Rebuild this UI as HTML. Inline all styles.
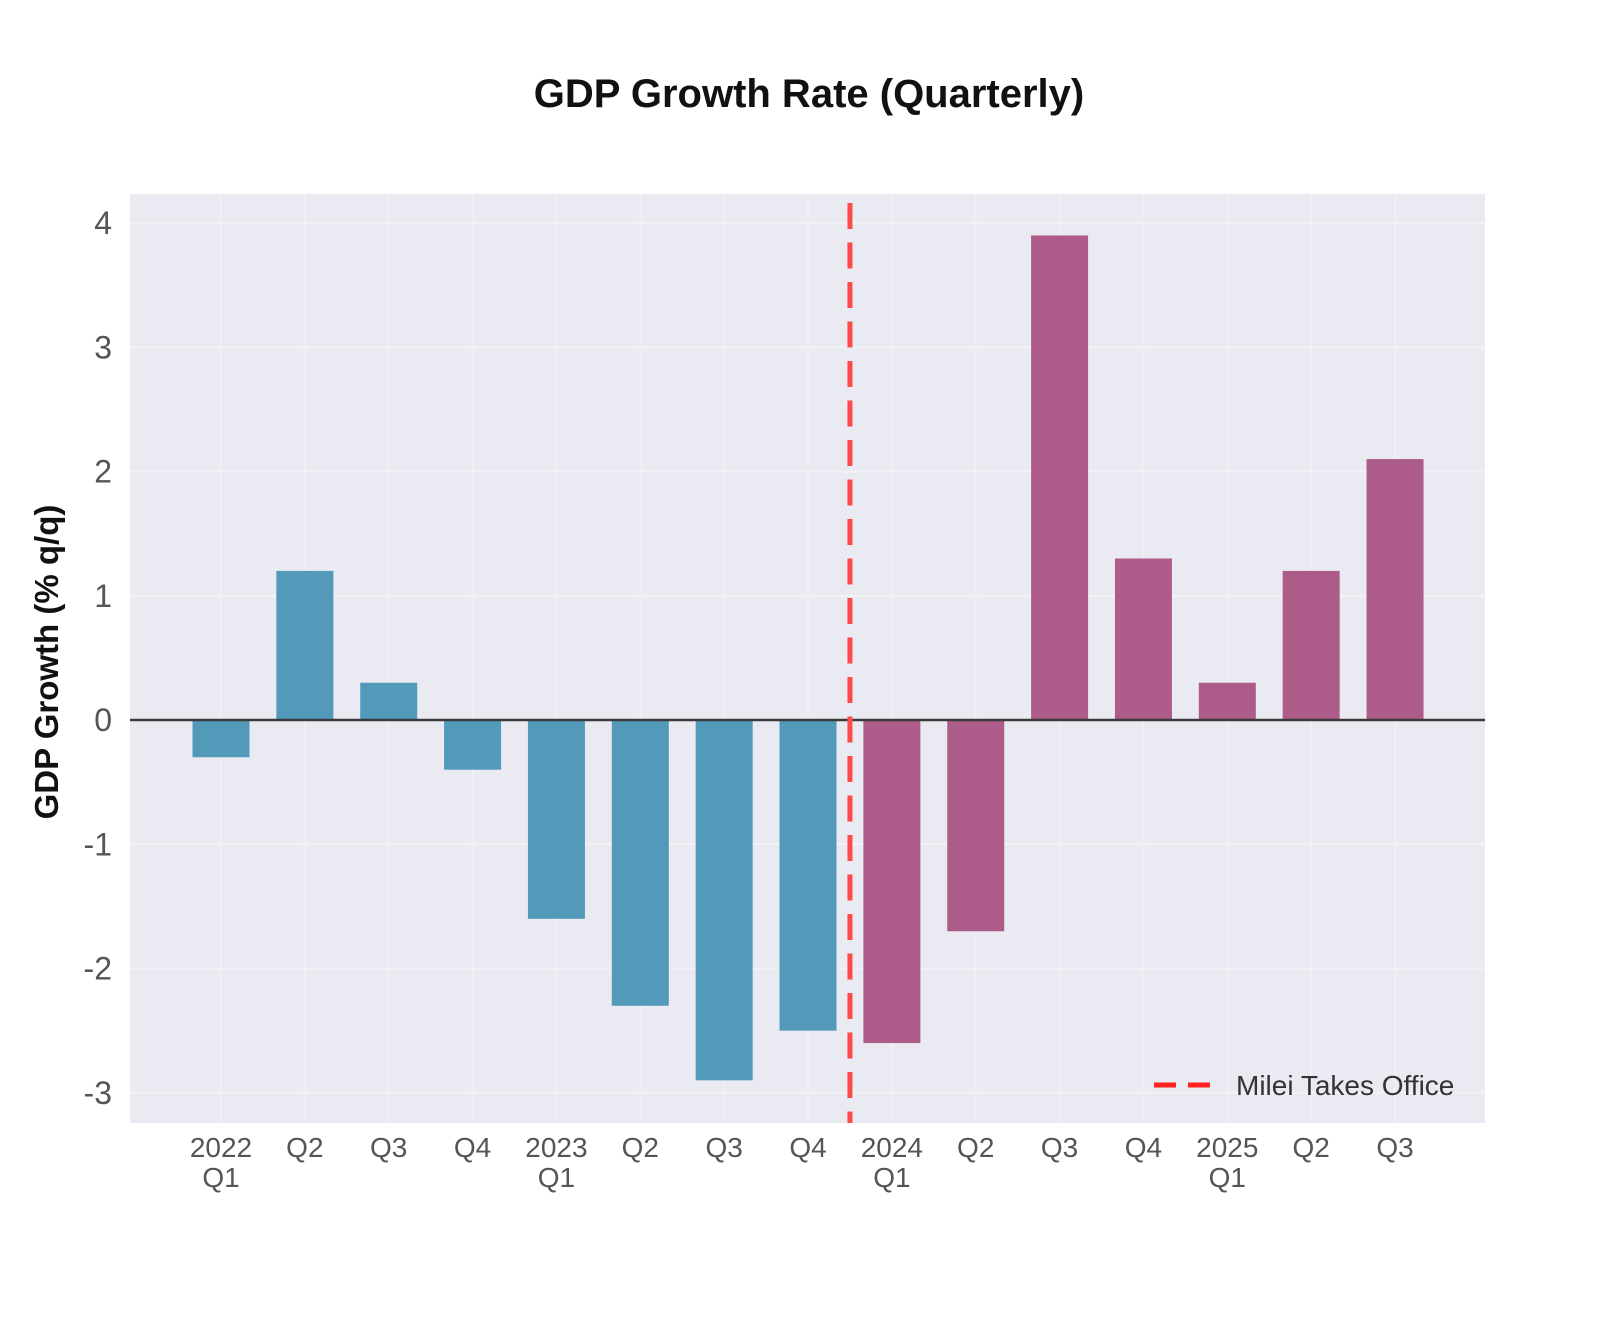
<!DOCTYPE html>
<html><head><meta charset="utf-8"><style>
html,body{margin:0;padding:0;background:#fff;}
svg{display:block;font-family:"Liberation Sans",Arial,sans-serif;}
</style></head><body>
<svg id="chart" width="1600" height="1336" viewBox="0 0 1600 1336">
<text x="809" y="107" text-anchor="middle" font-size="40" font-weight="bold" fill="#111">GDP Growth Rate (Quarterly)</text>
<rect x="130" y="194" width="1355" height="929" fill="#eaeaf2"/>
<g id="grid"></g>
<g id="bars"></g>
<g id="yticks"></g>
<g id="xticks"></g>
<text transform="translate(58,662) rotate(-90)" text-anchor="middle" font-size="33" font-weight="bold" fill="#111">GDP Growth (% q/q)</text>
<g>
<line x1="1154" y1="1085" x2="1214" y2="1085" stroke="#ff2020" stroke-width="5" stroke-dasharray="22,12"/>
<text x="1236" y="1095" font-size="28" fill="#333">Milei Takes Office</text>
</g>
</svg>
<script>
const categories=["2022\nQ1","Q2","Q3","Q4","2023\nQ1","Q2","Q3","Q4","2024\nQ1","Q2","Q3","Q4","2025\nQ1","Q2","Q3"];
const growth=[-0.3,1.2,0.3,-0.4,-1.6,-2.3,-2.9,-2.5,-2.6,-1.7,3.9,1.3,0.3,1.2,2.1];
const mileiIndex=8;
const yTicks=[-3,-2,-1,0,1,2,3,4];
const eventPosition=7.5;
const NS="http://www.w3.org/2000/svg";
function xs(i){return 221+i*83.86;}
function ys(v){return 720-v*124.25;}
function mk(tag,attrs,parent){const e=document.createElementNS(NS,tag);for(const k in attrs)e.setAttribute(k,attrs[k]);parent.appendChild(e);return e;}
const grid=document.getElementById('grid'),bars=document.getElementById('bars'),yt=document.getElementById('yticks'),xt=document.getElementById('xticks'),svg=document.getElementById('chart');
yTicks.forEach(v=>{
 const l=mk('line',{x1:130,x2:1485,y1:ys(v),y2:ys(v),stroke:'#f2f2f6','stroke-width':2},grid);
 
 
 const t=mk('text',{x:112,y:ys(v)+11,'text-anchor':'end','font-size':32,fill:'#555'},yt);
 t.textContent=String(v);
 
 
});
categories.forEach((c,i)=>{
 const l=mk('line',{x1:xs(i),x2:xs(i),y1:194,y2:1123,stroke:'#efeff4','stroke-width':2},grid);
 
 
 const parts=c.split("\n");
 parts.forEach((p,k)=>{
  const t=mk('text',{x:xs(i),y:1157+k*30,'text-anchor':'middle','font-size':28,fill:'#555'},xt);
  t.textContent=p;
  
  
 });
});
growth.forEach((v,i)=>{
 const y0=ys(0),y1=ys(v);
 const r=mk('rect',{x:xs(i)-28.5,y:Math.min(y0,y1),width:57,height:Math.abs(y1-y0),fill:i>=mileiIndex?'#ad5c8a':'#5399b9'},bars);
 
 
});
const z=mk('line',{x1:130,x2:1485,y1:ys(0),y2:ys(0),stroke:'#3a3a3a','stroke-width':2.5},svg);


const ev=mk('line',{x1:xs(eventPosition),x2:xs(eventPosition),y1:203,y2:1123,stroke:'#ff4a4a','stroke-width':5,'stroke-dasharray':'26,13.5'},svg);


</script>
</body></html>
